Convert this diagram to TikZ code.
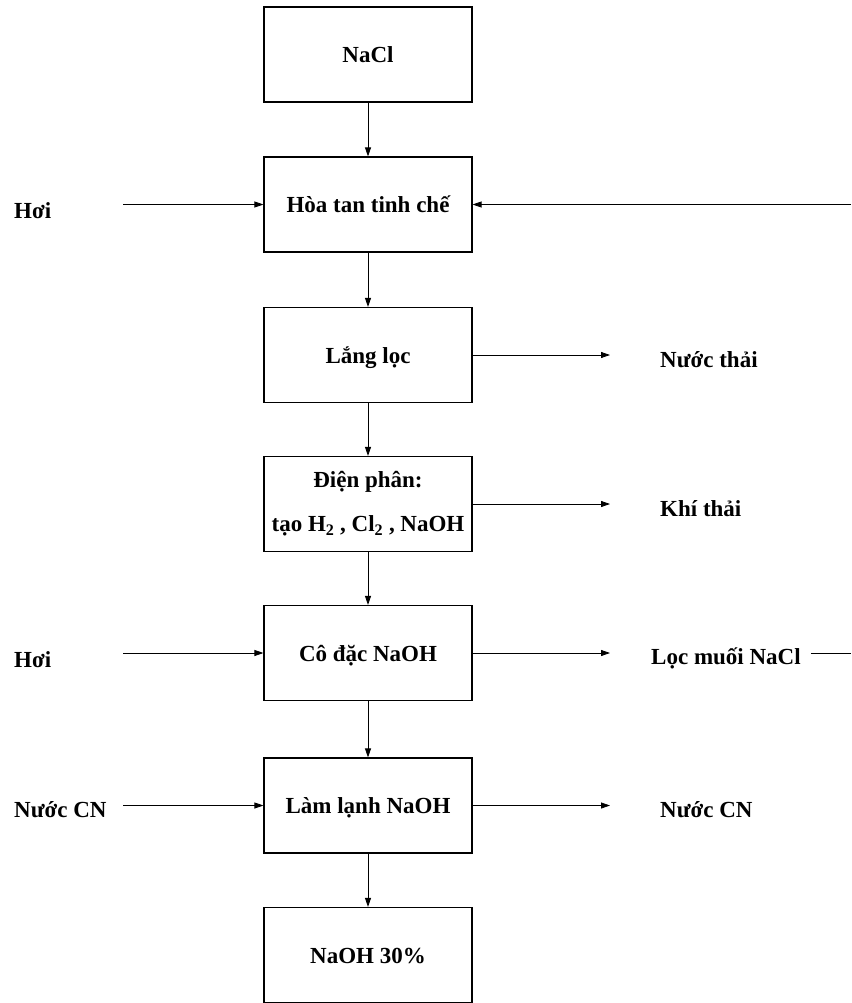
\documentclass[tikz,border=0pt]{standalone}
\usepackage{fontspec}
\setmainfont{Liberation Serif}
\usetikzlibrary{arrows.meta}
\begin{document}
\begin{tikzpicture}[x=1pt,y=-1pt,
  boxbase/.style={draw,line width=1.1pt,minimum width=208pt,minimum height=95pt,inner sep=0pt,font=\fontsize{23}{27}\selectfont\bfseries,align=center},
  stepbox/.style={boxbase,text height=16pt,text depth=0pt},
  lbl/.style={inner sep=0pt,anchor=west,font=\fontsize{23}{27}\selectfont\bfseries},
  flow/.style={line width=0.8pt,-{Triangle[length=9pt,width=6pt]}},
  plain/.style={line width=0.8pt}]
\useasboundingbox (0,0) rectangle (851,1003);
\node[stepbox] (b1) at (368,54.5) {NaCl};
\node[stepbox] (b2) at (368,204.5) {Hòa tan tinh chế};
\node[stepbox] (b3) at (368,355) {Lắng lọc};
\node[boxbase] (b4) at (368,504) {Điện phân:\\[17pt]tạo H$_{\mathbf 2}$ , Cl$_{\mathbf 2}$ , NaOH};
\node[stepbox] (b5) at (368,653) {Cô đặc NaOH};
\node[stepbox] (b6) at (368,805.5) {Làm lạnh NaOH};
\node[stepbox] (b7) at (368,955) {NaOH 30\%};

\draw[flow] (b1) -- (b2);
\draw[flow] (b2) -- (b3);
\draw[flow] (b3) -- (b4);
\draw[flow] (b4) -- (b5);
\draw[flow] (b5) -- (b6);
\draw[flow] (b6) -- (b7);

% left inputs
\node[lbl] (h1) at (14,211) {Hơi};
\coordinate (h1s) at (123,204.5);
\draw[flow] (h1s) -- (b2.west);
\node[lbl] (h2) at (14,660) {Hơi};
\coordinate (h2s) at (123,653);
\draw[flow] (h2s) -- (b5.west);
\node[lbl] (ncn1) at (14,810) {Nước CN};
\coordinate (ncs) at (123,805.5);
\draw[flow] (ncs) -- (b6.west);

% right outputs
\node[lbl] (nt) at (660,360) {Nước thải};
\coordinate (nte) at (610,355);
\draw[flow] (b3.east) -- (nte);
\node[lbl] (kt) at (660,509) {Khí thải};
\coordinate (kte) at (610,504);
\draw[flow] (b4.east) -- (kte);
\node[lbl] (lm) at (651,658) {Lọc muối NaCl};
\coordinate (lme) at (610,653);
\draw[flow] (b5.east) -- (lme);
\node[lbl] (ncn2) at (660,810) {Nước CN};
\coordinate (nce) at (610,805.5);
\draw[flow] (b6.east) -- (nce);

% recycle line (leaves the picture on the right)
\coordinate (rr1) at (851,653);
\coordinate (rr2) at (851,204.5);
\draw[plain] (lm.east) ++(10,-5) -- (rr1);
\draw[flow] (rr2) -- (b2.east);
\end{tikzpicture}
\end{document}
